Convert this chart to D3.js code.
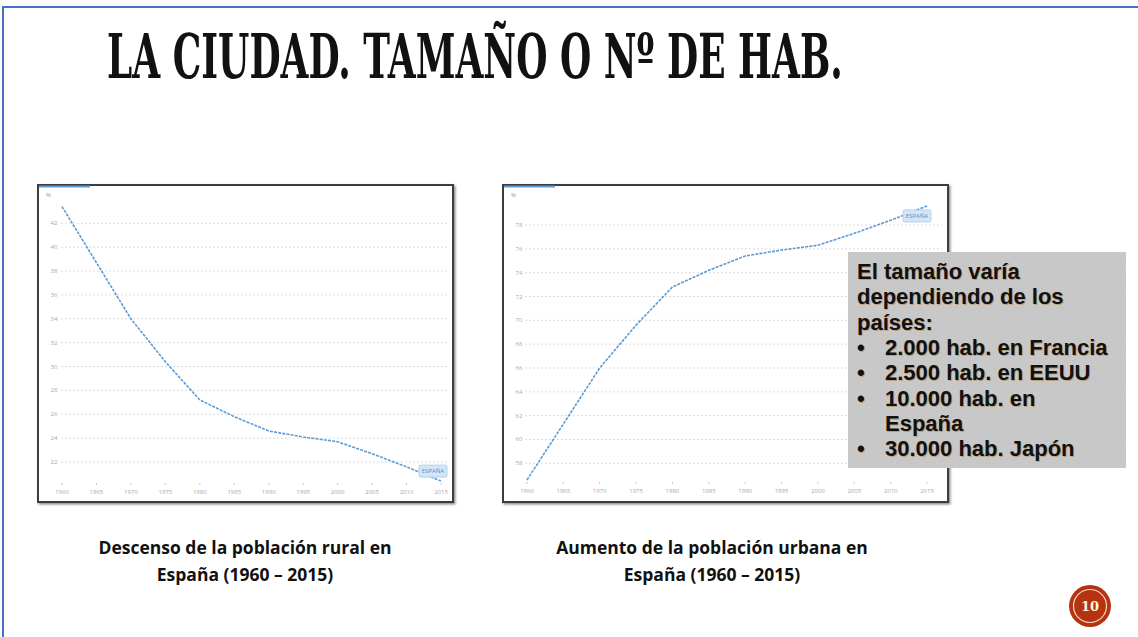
<!DOCTYPE html>
<html>
<head>
<meta charset="utf-8">
<script src="https://cdn.jsdelivr.net/npm/d3@7"></script>
<style>
  html, body { margin: 0; padding: 0; background: #fff; }
  svg { display: block; }
</style>
</head>
<body>
<svg id="slide" width="1138" height="637"></svg>
<script>

// data
var years = [1960, 1965, 1970, 1975, 1980, 1985, 1990, 1995, 2000, 2005, 2010, 2015];
var ruralPct = [43.4, 38.7, 34.0, 30.4, 27.2, 25.8, 24.6, 24.1, 23.7, 22.7, 21.6, 20.4];
var urbanPct = [56.6, 61.3, 66.0, 69.6, 72.8, 74.2, 75.4, 75.9, 76.3, 77.3, 78.4, 79.6];
var ruralTicks = [22, 24, 26, 28, 30, 32, 34, 36, 38, 40, 42];
var urbanTicks = [58, 60, 62, 64, 66, 68, 70, 72, 74, 76, 78];
var titleText = 'LA CIUDAD. TAMAÑO O Nº DE HAB.';
var ruralCaption = ['Descenso de la población rural en', 'España (1960 – 2015)'];
var urbanCaption = ['Aumento de la población urbana en', 'España (1960 – 2015)'];
var calloutLines = [
    {bullet: false, text: 'El tamaño varía'},
    {bullet: false, text: 'dependiendo de los'},
    {bullet: false, text: 'países:'},
    {bullet: true, text: '2.000 hab. en Francia'},
    {bullet: true, text: '2.500 hab. en EEUU'},
    {bullet: true, text: '10.000 hab. en'},
    {bullet: false, indent: true, text: 'España'},
    {bullet: true, text: '30.000 hab. Japón'}
];
var pageNumber = '10';

var _svg = d3.select('#slide');
var LINE_COLOR = '#5b9bd5';

var defs = _svg.append('defs');
var shadow = defs.append('filter').attr('id', 'boxShadow')
    .attr('x', '-5%').attr('y', '-5%').attr('width', '110%').attr('height', '110%');
shadow.append('feDropShadow').attr('dx', 1.5).attr('dy', 1.5)
    .attr('stdDeviation', 1.2).attr('flood-color', '#000').attr('flood-opacity', 0.45);

var grain = defs.append('filter').attr('id', 'grain')
    .attr('x', 0).attr('y', 0).attr('width', 1).attr('height', 1);
grain.append('feTurbulence').attr('type', 'fractalNoise')
    .attr('baseFrequency', 0.9).attr('numOctaves', 2).attr('seed', 4);
grain.append('feColorMatrix').attr('type', 'saturate').attr('values', 0);

//---------------------------------------------------------------------------------------
// SLIDE FRAME + TITLE
//---------------------------------------------------------------------------------------

_svg.append('rect').attr('width', 1138).attr('height', 637).attr('fill', '#fff');
_svg.append('path')
    .attr('d', 'M3,637 V7 H1138')
    .attr('fill', 'none')
    .attr('stroke', '#4472c4')
    .attr('stroke-width', 2);

// title is squeezed horizontally to the width it has on the slide
var titleG = _svg.append('g');
var title = titleG.append('text')
    .attr('x', 0)
    .attr('y', 0)
    .style('font-family', "'DejaVu Serif Condensed', 'DejaVu Serif', serif")
    .style('font-stretch', 'condensed')
    .style('font-weight', 'bold')
    .style('font-size', '62px')
    .style('fill', '#111')
    .text(titleText);
var titleLen = title.node().getComputedTextLength();
titleG.attr('transform', 'translate(107,78) scale(' + (736 / titleLen) + ',1)');

//---------------------------------------------------------------------------------------
// LINE CHARTS
//---------------------------------------------------------------------------------------

function drawChart(cfg) {
    var g = _svg.append('g');

    g.append('rect')
        .attr('x', cfg.box[0]).attr('y', cfg.box[1])
        .attr('width', cfg.box[2] - cfg.box[0]).attr('height', cfg.box[3] - cfg.box[1])
        .attr('fill', '#fff')
        .attr('stroke', '#3c3c3c')
        .attr('stroke-width', 2)
        .attr('filter', 'url(#boxShadow)');

    // small blue tab at the top-left corner
    g.append('line')
        .attr('x1', cfg.box[0] + 1).attr('x2', cfg.box[0] + 52)
        .attr('y1', cfg.box[1] + 1.5).attr('y2', cfg.box[1] + 1.5)
        .attr('stroke', LINE_COLOR).attr('stroke-width', 2);

    var x = d3.scaleLinear().domain([1960, 2015]).range(cfg.xRange);
    var y = d3.scaleLinear().domain(cfg.yDomain).range(cfg.yRange);

    g.append('text')
        .attr('x', cfg.box[0] + 8).attr('y', cfg.box[1] + 12)
        .style('font-family', 'Open Sans, sans-serif').style('font-size', '6px')
        .style('fill', '#999')
        .text('%');

    // dotted gridlines + y labels
    g.selectAll('.grid')
        .data(cfg.ticks)
      .enter().append('line')
        .attr('class', 'grid')
        .attr('x1', cfg.gridX[0]).attr('x2', cfg.gridX[1])
        .attr('y1', function (d) { return y(d); })
        .attr('y2', function (d) { return y(d); })
        .attr('stroke', '#dcdcdc')
        .attr('stroke-width', 1)
        .attr('stroke-dasharray', '2,2');

    g.selectAll('.ylab')
        .data(cfg.ticks)
      .enter().append('text')
        .attr('class', 'ylab')
        .attr('x', cfg.yLabelX)
        .attr('y', function (d) { return y(d) + 2; })
        .style('text-anchor', 'middle')
        .style('font-family', 'Open Sans, sans-serif').style('font-size', '6px')
        .style('fill', '#a8a8a8')
        .text(function (d) { return d; });

    // x axis labels with small ticks
    var xAxis = g.append('g').attr('transform', 'translate(0,' + cfg.xAxisY + ')');
    xAxis.selectAll('.xtick')
        .data(years)
      .enter().append('line')
        .attr('x1', function (d) { return x(d); })
        .attr('x2', function (d) { return x(d); })
        .attr('y1', -9).attr('y2', -7)
        .attr('stroke', '#c8c8c8');
    xAxis.selectAll('.xlab')
        .data(years)
      .enter().append('text')
        .attr('x', function (d) { return x(d); })
        .attr('y', 2)
        .style('text-anchor', 'middle')
        .style('font-family', 'Open Sans, sans-serif').style('font-size', '6px')
        .style('fill', '#a8a8a8')
        .text(function (d) { return d; });

    var line = d3.line()
        .x(function (d, i) { return x(years[i]); })
        .y(function (d) { return y(d); });

    g.append('path')
        .datum(cfg.values)
        .attr('d', line)
        .attr('fill', 'none')
        .attr('stroke', LINE_COLOR)
        .attr('stroke-width', 1.6)
        .attr('stroke-dasharray', '3,1.2');

    // ESPAÑA tag near the end of the line
    var last = cfg.values[cfg.values.length - 1];
    var tx = x(2015) + cfg.tagOffset[0];
    var ty = y(last) + cfg.tagOffset[1];
    g.append('rect')
        .attr('x', tx).attr('y', ty).attr('width', 28).attr('height', 12).attr('rx', 1.5)
        .attr('fill', '#d3e5f6').attr('stroke', '#aacbe9').attr('stroke-width', 0.8);
    g.append('text')
        .attr('x', tx + 14).attr('y', ty + 8.2)
        .style('text-anchor', 'middle')
        .style('font-family', 'Open Sans, sans-serif').style('font-size', '6px')
        .style('fill', '#5d90c8')
        .text('ESPAÑA');

    // caption below the chart
    g.selectAll('.caption')
        .data(cfg.caption)
      .enter().append('text')
        .attr('x', cfg.captionX)
        .attr('y', function (d, i) { return 554 + i * 27; })
        .style('text-anchor', 'middle')
        .style('font-family', 'Open Sans, sans-serif')
        .style('font-weight', 'bold')
        .style('font-size', '17.5px')
        .style('fill', '#111')
        .text(function (d) { return d; });
}

drawChart({
    box: [38, 185, 453, 502],
    xRange: [62, 441],
    yDomain: [20, 44],
    yRange: [485.9, 199.4],
    gridX: [61, 449],
    yLabelX: 54,
    xAxisY: 492,
    ticks: ruralTicks,
    values: ruralPct,
    tagOffset: [-22, -16],
    caption: ruralCaption,
    captionX: 245
});

drawChart({
    box: [503, 185, 948, 502],
    xRange: [527, 927],
    yDomain: [56, 80],
    yRange: [487.1, 201.2],
    gridX: [525, 942],
    yLabelX: 519,
    xAxisY: 491,
    ticks: urbanTicks,
    values: urbanPct,
    tagOffset: [-24, 4],
    caption: urbanCaption,
    captionX: 712
});

//---------------------------------------------------------------------------------------
// CALLOUT BOX
//---------------------------------------------------------------------------------------

var callout = _svg.append('g');
callout.append('rect')
    .attr('x', 848).attr('y', 252).attr('width', 278).attr('height', 216)
    .attr('fill', '#c9c9c9');
callout.append('rect')
    .attr('x', 848).attr('y', 252).attr('width', 278).attr('height', 216)
    .attr('filter', 'url(#grain)')
    .attr('opacity', 0.15);

var lineRows = callout.selectAll('.row')
    .data(calloutLines)
  .enter().append('g')
    .attr('transform', function (d, i) { return 'translate(0,' + (279 + i * 25.3) + ')'; });

function addRowText(sel, dx, dy, color) {
    sel.filter(function (d) { return d.bullet; })
      .append('text')
        .attr('x', 857 + dx).attr('y', dy)
        .style('font-family', 'Liberation Sans, Arial, sans-serif')
        .style('font-weight', 'bold').style('font-size', '22px')
        .style('fill', color)
        .text('•');
    sel.append('text')
        .attr('x', function (d) { return (d.bullet || d.indent ? 885 : 857) + dx; })
        .attr('y', dy)
        .style('font-family', 'Liberation Sans, Arial, sans-serif')
        .style('font-weight', 'bold').style('font-size', '22px')
        .style('fill', color)
        .text(function (d) { return d.text; });
}
addRowText(lineRows, 1, 1, 'rgba(170,110,30,0.45)');
addRowText(lineRows, 0, 0, '#111');

//---------------------------------------------------------------------------------------
// PAGE NUMBER BADGE
//---------------------------------------------------------------------------------------

var badge = _svg.append('g').attr('transform', 'translate(1090,606)');
badge.append('circle').attr('r', 21).attr('fill', '#b5330f');
badge.append('circle').attr('r', 16.5).attr('fill', 'none')
    .attr('stroke', '#f3d9cf').attr('stroke-width', 1.2);
badge.append('text')
    .attr('y', 5)
    .style('text-anchor', 'middle')
    .style('font-family', 'DejaVu Serif, serif')
    .style('font-weight', 'bold').style('font-size', '13px')
    .style('fill', '#fff6dc')
    .text(pageNumber);

</script>
</body>
</html>
